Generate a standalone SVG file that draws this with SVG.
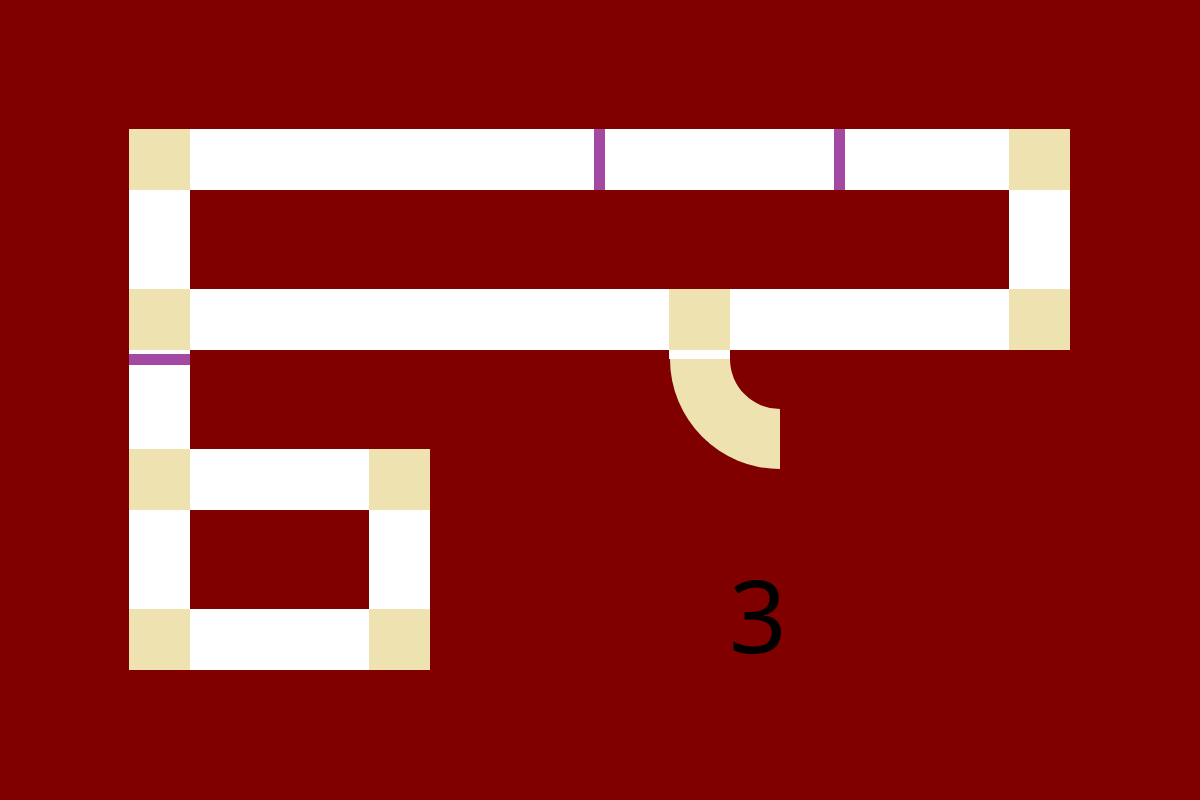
<svg xmlns="http://www.w3.org/2000/svg" width="1200" height="800" viewBox="0 0 1200 800">
<style>
.w{fill:#ffffff}
.b{fill:#eee2b0}
.p{fill:#a349a4}
</style>
<rect width="1200" height="800" fill="#800000"/>
<g id="paths">
<rect class="w" x="190" y="129" width="819" height="61"/>
<rect class="w" x="1009" y="190" width="61" height="99"/>
<rect class="w" x="190" y="289" width="819" height="61"/>
<rect class="w" x="129" y="190" width="61" height="99"/>
<rect class="w" x="129" y="350" width="61" height="99"/>
<rect class="w" x="190" y="449" width="179" height="61"/>
<rect class="w" x="369" y="510" width="61" height="99"/>
<rect class="w" x="190" y="609" width="179" height="61"/>
<rect class="w" x="129" y="510" width="61" height="99"/>
<rect class="w" x="669" y="350" width="61" height="9"/>
</g>
<g id="tiles">
<rect class="b" x="129" y="129" width="61" height="61"/>
<rect class="b" x="1009" y="129" width="61" height="61"/>
<rect class="b" x="129" y="289" width="61" height="61"/>
<rect class="b" x="669" y="289" width="61" height="61"/>
<rect class="b" x="1009" y="289" width="61" height="61"/>
<rect class="b" x="129" y="449" width="61" height="61"/>
<rect class="b" x="369" y="449" width="61" height="61"/>
<rect class="b" x="129" y="609" width="61" height="61"/>
<rect class="b" x="369" y="609" width="61" height="61"/>
<path class="b" d="M670 359 L730 359 A50 50 0 0 0 780 409 L780 469 A110 110 0 0 1 670 359 Z"/>
</g>
<g id="markers">
<rect class="p" x="594" y="129" width="11" height="61"/>
<rect class="p" x="834" y="129" width="11" height="61"/>
<rect class="p" x="129" y="354" width="61" height="11"/>
</g>
<text x="758" y="653" font-family="Noto Sans, sans-serif" font-size="101" text-anchor="middle" fill="#000000">3</text>
</svg>
